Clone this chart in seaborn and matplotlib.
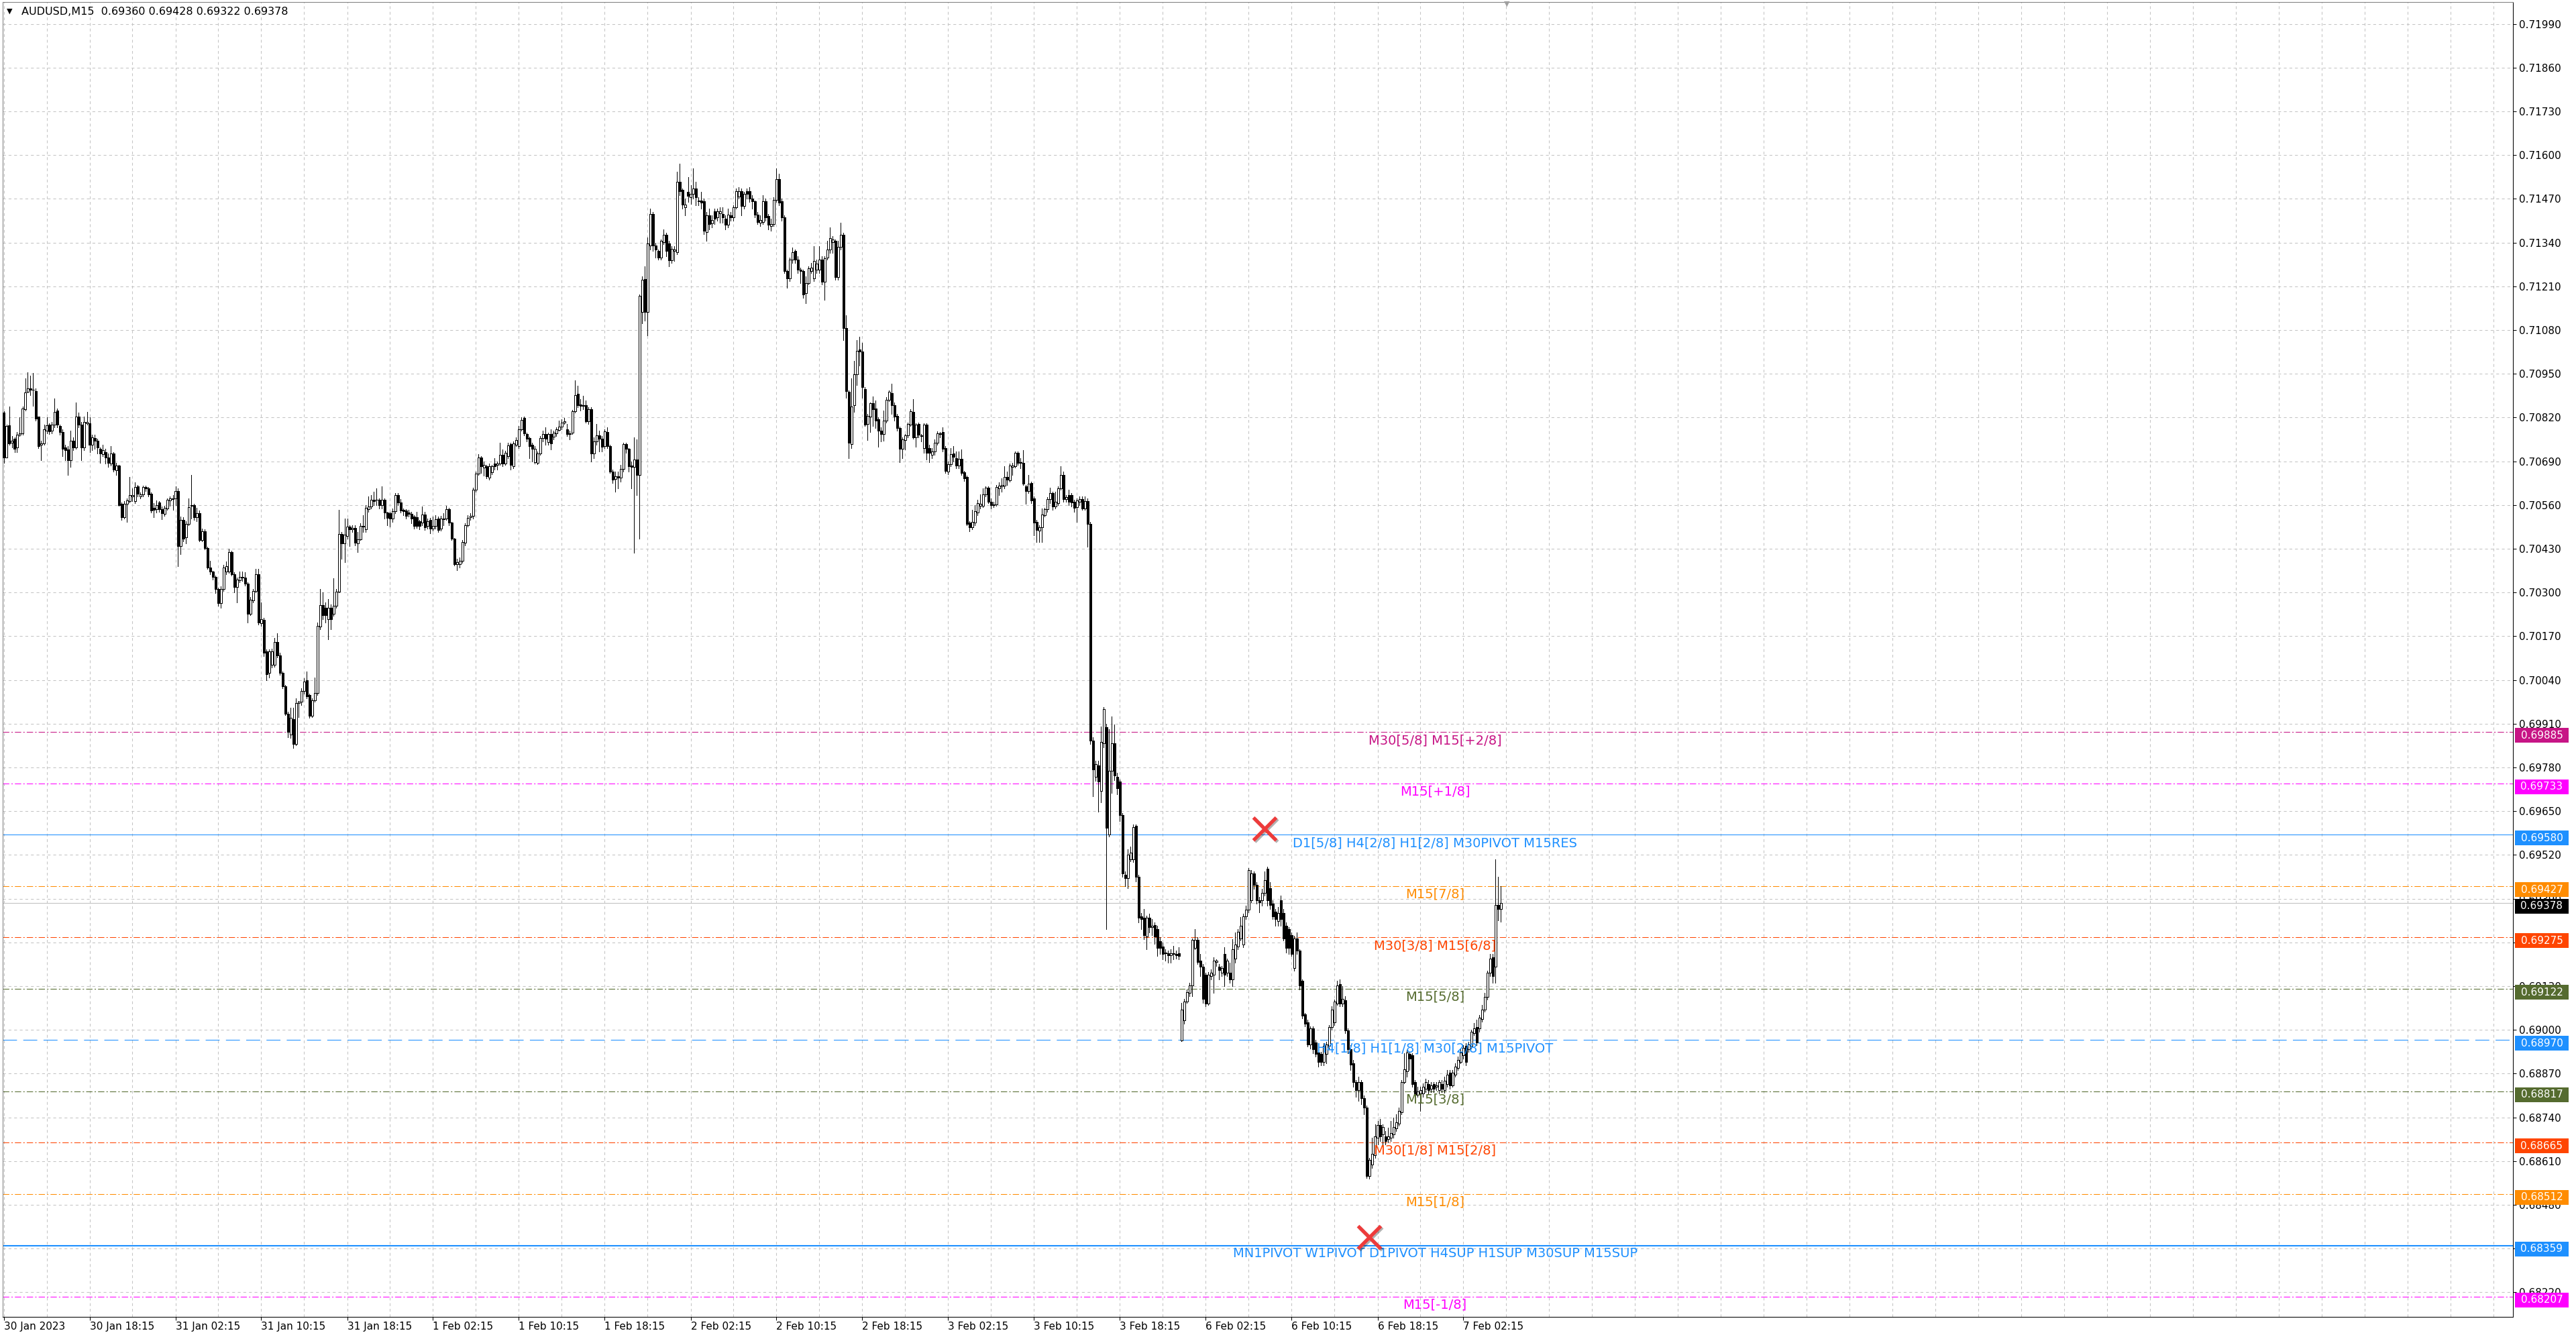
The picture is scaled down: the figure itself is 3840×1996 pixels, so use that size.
import numpy as np
import matplotlib
matplotlib.use("Agg")
import matplotlib.pyplot as plt
import matplotlib.transforms as mtransforms
import matplotlib.patheffects as pe
from matplotlib.patches import Rectangle
import seaborn as sns

# M15 candles, prices in points (1e-5)
opens = [
    70835, 70702, 70797, 70746, 70756, 70732, 70768, 70772, 70844, 70896,
    70906, 70903, 70899, 70823, 70739, 70744, 70780, 70799, 70780, 70799,
    70840, 70795, 70776, 70732, 70726, 70694, 70752, 70732, 70823, 70799,
    70732, 70803, 70803, 70740, 70758, 70752, 70728, 70711, 70718, 70701,
    70683, 70713, 70664, 70677, 70563, 70523, 70563, 70571, 70586, 70571,
    70616, 70586, 70592, 70614, 70610, 70594, 70551, 70547, 70567, 70547,
    70534, 70549, 70573, 70579, 70579, 70602, 70437, 70515, 70464, 70504,
    70560, 70559, 70523, 70535, 70456, 70482, 70431, 70374, 70362, 70346,
    70311, 70269, 70311, 70363, 70363, 70421, 70355, 70316, 70337, 70346,
    70344, 70326, 70237, 70277, 70305, 70355, 70208, 70218, 70124, 70061,
    70086, 70086, 70153, 70113, 70061, 70021, 69940, 69877, 69924, 69849,
    69971, 69975, 70007, 70039, 69995, 69934, 69979, 70001, 70198, 70263,
    70255, 70220, 70255, 70236, 70261, 70303, 70474, 70445, 70468, 70496,
    70488, 70492, 70445, 70458, 70496, 70488, 70547, 70556, 70575, 70576,
    70575, 70559, 70576, 70537, 70535, 70519, 70542, 70589, 70567, 70545,
    70543, 70537, 70534, 70525, 70524, 70511, 70507, 70532, 70498, 70515,
    70489, 70498, 70520, 70489, 70517, 70520, 70548, 70507, 70459, 70385,
    70385, 70394, 70448, 70500, 70524, 70528, 70606, 70654, 70701, 70671,
    70675, 70641, 70658, 70684, 70679, 70684, 70710, 70684, 70706, 70742,
    70675, 70740, 70736, 70785, 70818, 70770, 70759, 70740, 70688, 70686,
    70714, 70759, 70770, 70747, 70770, 70762, 70773, 70783, 70792, 70805,
    70785, 70773, 70775, 70839, 70891, 70859, 70857, 70857, 70809, 70845,
    70714, 70749, 70766, 70757, 70736, 70776, 70736, 70660, 70638, 70645,
    70641, 70667, 70742, 70727, 70678, 70673, 70695, 70649, 71133, 71231,
    71133, 71332, 71425, 71332, 71315, 71295, 71341, 71364, 71337, 71287,
    71315, 71312, 71520, 71497, 71445, 71490, 71475, 71484, 71501, 71465,
    71465, 71462, 71371, 71421, 71397, 71432, 71414, 71427, 71425, 71410,
    71393, 71420, 71414, 71445, 71477, 71492, 71449, 71492, 71492, 71471,
    71462, 71423, 71399, 71402, 71462, 71419, 71389, 71395, 71466, 71529,
    71462, 71414, 71255, 71233, 71289, 71315, 71289, 71259, 71255, 71190,
    71220, 71255, 71233, 71259, 71259, 71289, 71224, 71295, 71319, 71341,
    71345, 71238, 71328, 71364, 71085, 70896, 70742, 70856, 70948, 71022,
    71016, 70904, 70801, 70822, 70862, 70847, 70814, 70781, 70771, 70810,
    70872, 70893, 70856, 70824, 70788, 70728, 70753, 70766, 70799, 70837,
    70761, 70801, 70766, 70730, 70799, 70730, 70710, 70719, 70746, 70772,
    70776, 70729, 70659, 70682, 70713, 70700, 70677, 70697, 70658, 70643,
    70507, 70494, 70507, 70537, 70558, 70558, 70591, 70611, 70570, 70559,
    70562, 70610, 70616, 70618, 70644, 70634, 70673, 70675, 70715, 70688,
    70685, 70616, 70601, 70626, 70580, 70509, 70484, 70494, 70530, 70547,
    70578, 70595, 70555, 70566, 70610, 70649, 70578, 70589, 70589, 70570,
    70553, 70570, 70578, 70550, 70572, 70504, 69860, 69752, 69785, 69710,
    69851, 69900, 69580, 69771, 69851, 69752, 69738, 69639, 69460, 69451,
    69507, 69507, 69606, 69455, 69338, 69333, 69278, 69333, 69305, 69312,
    69300, 69263, 69248, 69230, 69228, 69222, 69228, 69225, 69228, 68969,
    69028, 69084, 69110, 69131, 69244, 69267, 69206, 69187, 69164, 69079,
    69159, 69164, 69202, 69187, 69169, 69225, 69169, 69169, 69150, 69212,
    69248, 69272, 69253, 69338, 69357, 69385, 69465, 69432, 69385, 69385,
    69408, 69479, 69422, 69376, 69352, 69324, 69385, 69347, 69310, 69300,
    69282, 69183, 69272, 69235, 69145, 69046, 69023, 68957, 69004, 68962,
    68933, 68929, 68905, 68929, 68952, 69009, 69023, 69079, 69136, 69079,
    69089, 68999, 68943, 68900, 68844, 68820, 68844, 68797, 68769, 68566,
    68600, 68628, 68679, 68717, 68689, 68684, 68675, 68679, 68689, 68708,
    68722, 68755, 68844, 68877, 68929, 68924, 68844, 68806, 68811, 68811,
    68825, 68839, 68825, 68839, 68830, 68820, 68839, 68820, 68839, 68872,
    68835, 68867, 68886, 68905, 68924, 68952, 68943, 68952, 68990, 69009,
    69004, 69032, 69060, 69098, 69169, 69216, 69187, 69371, 69360,
]
highs = [
    70839, 70799, 70852, 70764, 70760, 70776, 70821, 70852, 70937, 70955,
    70945, 70953, 70906, 70823, 70752, 70799, 70821, 70803, 70807, 70877,
    70847, 70799, 70784, 70740, 70736, 70780, 70760, 70864, 70835, 70807,
    70823, 70837, 70821, 70768, 70768, 70756, 70732, 70740, 70728, 70713,
    70736, 70717, 70685, 70680, 70567, 70571, 70579, 70644, 70610, 70627,
    70620, 70598, 70618, 70617, 70614, 70598, 70565, 70573, 70571, 70555,
    70557, 70580, 70586, 70590, 70616, 70610, 70525, 70523, 70512, 70580,
    70649, 70563, 70551, 70543, 70490, 70488, 70436, 70395, 70365, 70350,
    70315, 70318, 70382, 70393, 70430, 70425, 70360, 70345, 70362, 70362,
    70360, 70330, 70286, 70310, 70370, 70370, 70270, 70225, 70130, 70130,
    70132, 70164, 70178, 70120, 70066, 70025, 69945, 69958, 69958, 69985,
    69978, 70015, 70045, 70065, 70000, 69985, 70048, 70210, 70310, 70300,
    70270, 70280, 70265, 70342, 70310, 70546, 70480, 70520, 70520, 70500,
    70500, 70500, 70480, 70505, 70530, 70560, 70585, 70590, 70600, 70610,
    70580, 70615, 70580, 70540, 70540, 70550, 70595, 70595, 70578, 70550,
    70548, 70545, 70540, 70530, 70540, 70515, 70555, 70540, 70520, 70522,
    70525, 70530, 70525, 70528, 70535, 70558, 70552, 70510, 70462, 70400,
    70405, 70455, 70505, 70530, 70535, 70612, 70660, 70712, 70705, 70690,
    70680, 70684, 70680, 70700, 70690, 70745, 70725, 70722, 70745, 70745,
    70750, 70760, 70795, 70820, 70822, 70775, 70762, 70745, 70735, 70720,
    70765, 70780, 70790, 70775, 70785, 70780, 70790, 70810, 70815, 70818,
    70800, 70780, 70843, 70930, 70915, 70875, 70885, 70870, 70850, 70850,
    70760, 70800, 70780, 70765, 70785, 70790, 70740, 70665, 70660, 70660,
    70680, 70745, 70745, 70730, 70690, 70760, 70755, 71185, 71240, 71270,
    71355, 71440, 71430, 71340, 71320, 71350, 71380, 71370, 71345, 71330,
    71330, 71550, 71575, 71500, 71470, 71535, 71510, 71560, 71520, 71475,
    71490, 71470, 71430, 71440, 71420, 71440, 71440, 71445, 71445, 71420,
    71440, 71430, 71450, 71500, 71505, 71500, 71490, 71500, 71505, 71480,
    71465, 71430, 71420, 71480, 71470, 71425, 71410, 71475, 71560, 71545,
    71470, 71420, 71260, 71295, 71325, 71320, 71300, 71265, 71260, 71240,
    71270, 71280, 71330, 71290, 71330, 71300, 71300, 71345, 71385, 71360,
    71350, 71345, 71400, 71370, 71123, 70900, 70936, 70988, 71051, 71061,
    71043, 70910, 70830, 70864, 70882, 70870, 70820, 70790, 70841, 70880,
    70900, 70921, 70864, 70830, 70792, 70760, 70770, 70805, 70845, 70875,
    70803, 70805, 70770, 70803, 70803, 70740, 70730, 70755, 70778, 70776,
    70790, 70735, 70690, 70730, 70735, 70720, 70720, 70725, 70662, 70648,
    70512, 70545, 70560, 70575, 70592, 70610, 70616, 70615, 70580, 70570,
    70620, 70628, 70640, 70676, 70660, 70683, 70685, 70720, 70720, 70700,
    70723, 70620, 70650, 70630, 70585, 70515, 70500, 70550, 70552, 70583,
    70612, 70600, 70600, 70615, 70676, 70660, 70590, 70605, 70595, 70575,
    70580, 70585, 70585, 70585, 70580, 70510, 69869, 69800, 69799, 69902,
    69960, 69910, 69893, 69931, 69907, 69765, 69745, 69645, 69470, 69536,
    69545, 69610, 69611, 69460, 69347, 69360, 69340, 69345, 69330, 69320,
    69310, 69275, 69260, 69240, 69235, 69240, 69250, 69235, 69245, 69080,
    69093, 69120, 69140, 69272, 69300, 69275, 69225, 69195, 69170, 69172,
    69180, 69215, 69210, 69195, 69190, 69245, 69212, 69200, 69270, 69290,
    69300, 69335, 69345, 69370, 69480, 69474, 69470, 69440, 69395, 69420,
    69470, 69484, 69440, 69385, 69360, 69365, 69400, 69360, 69320, 69305,
    69290, 69280, 69290, 69240, 69150, 69050, 69030, 69010, 69010, 68970,
    68940, 68935, 68960, 68965, 69015, 69070, 69090, 69145, 69150, 69130,
    69100, 69005, 68955, 68910, 68850, 68860, 68850, 68805, 68775, 68620,
    68680, 68720, 68730, 68735, 68720, 68700, 68710, 68730, 68740, 68750,
    68770, 68850, 68930, 68940, 68935, 68930, 68850, 68830, 68830, 68840,
    68855, 68850, 68845, 68845, 68845, 68850, 68850, 68860, 68880, 68880,
    68880, 68900, 68920, 68945, 68955, 68960, 68965, 69000, 69020, 69030,
    69045, 69075, 69110, 69175, 69225, 69225, 69507, 69455, 69428,
]
lows = [
    70685, 70701, 70740, 70731, 70717, 70717, 70764, 70768, 70840, 70894,
    70886, 70854, 70810, 70730, 70693, 70740, 70772, 70770, 70772, 70791,
    70791, 70768, 70705, 70693, 70649, 70673, 70724, 70728, 70791, 70693,
    70724, 70799, 70717, 70724, 70728, 70713, 70685, 70705, 70683, 70673,
    70677, 70660, 70649, 70557, 70515, 70519, 70510, 70567, 70571, 70565,
    70586, 70580, 70586, 70601, 70586, 70538, 70523, 70538, 70540, 70517,
    70527, 70545, 70557, 70545, 70560, 70379, 70415, 70452, 70445, 70500,
    70520, 70515, 70512, 70452, 70452, 70428, 70370, 70355, 70338, 70298,
    70261, 70255, 70305, 70355, 70358, 70350, 70300, 70270, 70330, 70335,
    70320, 70210, 70232, 70270, 70300, 70205, 70200, 70110, 70040, 70048,
    70078, 70080, 70106, 70055, 70015, 69935, 69870, 69868, 69838, 69845,
    69930, 69965, 70000, 69985, 69928, 69930, 69975, 69995, 70190, 70220,
    70210, 70160, 70190, 70230, 70255, 70300, 70400, 70390, 70460, 70438,
    70480, 70440, 70420, 70455, 70480, 70480, 70540, 70550, 70560, 70560,
    70550, 70550, 70520, 70500, 70495, 70510, 70535, 70560, 70538, 70530,
    70520, 70525, 70505, 70490, 70492, 70488, 70500, 70485, 70490, 70475,
    70483, 70490, 70480, 70484, 70500, 70515, 70500, 70455, 70380, 70366,
    70375, 70388, 70440, 70495, 70515, 70520, 70600, 70650, 70655, 70648,
    70640, 70635, 70652, 70665, 70665, 70680, 70675, 70680, 70700, 70665,
    70670, 70735, 70730, 70780, 70766, 70750, 70700, 70690, 70684, 70682,
    70710, 70750, 70740, 70740, 70725, 70755, 70765, 70780, 70785, 70800,
    70765, 70755, 70770, 70835, 70850, 70840, 70845, 70805, 70800, 70690,
    70700, 70740, 70720, 70720, 70730, 70730, 70655, 70625, 70600, 70610,
    70630, 70660, 70715, 70660, 70610, 70418, 70590, 70459, 71100, 71108,
    71064, 71320, 71315, 71295, 71290, 71290, 71335, 71300, 71270, 71280,
    71285, 71305, 71480, 71440, 71420, 71460, 71455, 71470, 71450, 71450,
    71440, 71365, 71345, 71380, 71385, 71395, 71405, 71400, 71400, 71380,
    71385, 71405, 71405, 71440, 71470, 71420, 71440, 71470, 71460, 71440,
    71415, 71395, 71390, 71395, 71405, 71380, 71375, 71390, 71460, 71450,
    71405, 71250, 71205, 71225, 71280, 71280, 71250, 71220, 71175, 71160,
    71215, 71250, 71225, 71250, 71250, 71215, 71170, 71290, 71310, 71310,
    71230, 71230, 71320, 71050, 70879, 70700, 70730, 70837, 70917, 70974,
    70879, 70795, 70753, 70776, 70795, 70788, 70734, 70750, 70751, 70805,
    70868, 70830, 70810, 70780, 70688, 70700, 70726, 70760, 70795, 70757,
    70734, 70760, 70750, 70715, 70696, 70688, 70700, 70710, 70740, 70760,
    70720, 70655, 70652, 70675, 70690, 70670, 70670, 70650, 70632, 70500,
    70482, 70488, 70500, 70530, 70550, 70553, 70585, 70565, 70550, 70553,
    70558, 70590, 70600, 70610, 70620, 70630, 70650, 70672, 70680, 70670,
    70620, 70563, 70595, 70565, 70470, 70450, 70450, 70450, 70525, 70540,
    70565, 70545, 70550, 70560, 70605, 70570, 70570, 70560, 70555, 70540,
    70510, 70560, 70545, 70545, 70436, 69850, 69695, 69740, 69648, 69677,
    69840, 69300, 69575, 69705, 69742, 69700, 69620, 69455, 69427, 69422,
    69500, 69498, 69441, 69320, 69300, 69270, 69240, 69290, 69282, 69255,
    69220, 69225, 69210, 69205, 69200, 69200, 69210, 69212, 69210, 68966,
    69018, 69080, 69100, 69100, 69240, 69195, 69160, 69080, 69070, 69075,
    69150, 69110, 69190, 69150, 69160, 69130, 69160, 69140, 69130, 69200,
    69240, 69265, 69245, 69330, 69350, 69380, 69420, 69376, 69350, 69370,
    69400, 69370, 69360, 69330, 69310, 69310, 69310, 69265, 69230, 69225,
    69220, 69175, 69225, 69120, 69035, 69010, 68950, 68945, 68930, 68920,
    68890, 68895, 68895, 68900, 68945, 69000, 69015, 69075, 69070, 69070,
    68990, 68930, 68880, 68830, 68800, 68790, 68780, 68750, 68560, 68558,
    68590, 68620, 68660, 68670, 68660, 68660, 68665, 68670, 68680, 68700,
    68715, 68750, 68840, 68860, 68880, 68830, 68790, 68800, 68760, 68800,
    68815, 68810, 68815, 68815, 68820, 68810, 68815, 68812, 68830, 68825,
    68830, 68860, 68880, 68900, 68915, 68895, 68935, 68945, 68985, 68955,
    68995, 69025, 69055, 69090, 69160, 69140, 69140, 69325, 69322,
]
closes = [
    70701, 70795, 70744, 70752, 70728, 70768, 70773, 70847, 70895, 70906,
    70903, 70903, 70817, 70736, 70744, 70784, 70797, 70778, 70799, 70837,
    70799, 70776, 70728, 70724, 70694, 70752, 70732, 70823, 70799, 70732,
    70807, 70807, 70740, 70760, 70752, 70731, 70713, 70724, 70701, 70685,
    70713, 70665, 70677, 70560, 70523, 70564, 70573, 70589, 70590, 70614,
    70594, 70592, 70614, 70610, 70592, 70543, 70545, 70560, 70547, 70535,
    70551, 70575, 70579, 70577, 70602, 70437, 70515, 70460, 70504, 70553,
    70557, 70523, 70535, 70456, 70482, 70431, 70375, 70362, 70346, 70311,
    70269, 70311, 70375, 70378, 70421, 70355, 70316, 70338, 70346, 70344,
    70326, 70237, 70279, 70305, 70354, 70210, 70220, 70121, 70058, 70124,
    70125, 70153, 70113, 70061, 70021, 69940, 69885, 69927, 69849, 69971,
    69975, 70007, 70035, 69991, 69934, 69979, 70001, 70200, 70263, 70232,
    70232, 70255, 70220, 70261, 70303, 70474, 70445, 70472, 70496, 70488,
    70492, 70448, 70458, 70497, 70497, 70551, 70556, 70575, 70571, 70575,
    70559, 70576, 70537, 70521, 70519, 70542, 70589, 70567, 70543, 70541,
    70528, 70534, 70520, 70498, 70498, 70498, 70532, 70494, 70511, 70489,
    70498, 70517, 70485, 70520, 70520, 70548, 70507, 70459, 70385, 70390,
    70394, 70450, 70500, 70522, 70528, 70606, 70654, 70701, 70675, 70679,
    70645, 70675, 70675, 70675, 70684, 70710, 70684, 70716, 70738, 70679,
    70744, 70753, 70785, 70813, 70773, 70757, 70736, 70727, 70727, 70714,
    70759, 70770, 70757, 70770, 70744, 70775, 70785, 70792, 70805, 70809,
    70770, 70770, 70839, 70887, 70857, 70854, 70854, 70809, 70844, 70714,
    70749, 70766, 70757, 70733, 70779, 70736, 70660, 70636, 70645, 70641,
    70667, 70742, 70727, 70675, 70673, 70695, 70649, 71181, 71229, 71133,
    71337, 71425, 71332, 71319, 71295, 71345, 71363, 71315, 71287, 71321,
    71319, 71520, 71492, 71453, 71453, 71479, 71484, 71501, 71475, 71462,
    71459, 71376, 71421, 71395, 71406, 71410, 71432, 71433, 71414, 71393,
    71423, 71414, 71445, 71492, 71492, 71449, 71485, 71485, 71471, 71462,
    71423, 71402, 71406, 71462, 71414, 71393, 71395, 71466, 71529, 71458,
    71414, 71255, 71233, 71289, 71312, 71289, 71259, 71255, 71185, 71220,
    71263, 71265, 71285, 71278, 71289, 71224, 71293, 71319, 71354, 71350,
    71238, 71328, 71364, 71086, 70898, 70746, 70852, 70948, 71018, 71016,
    70910, 70799, 70824, 70862, 70845, 70810, 70780, 70771, 70810, 70872,
    70896, 70856, 70822, 70788, 70728, 70755, 70766, 70801, 70839, 70761,
    70799, 70768, 70764, 70799, 70715, 70715, 70720, 70746, 70772, 70771,
    70728, 70662, 70682, 70711, 70704, 70677, 70697, 70655, 70639, 70504,
    70494, 70509, 70542, 70565, 70564, 70591, 70611, 70570, 70559, 70562,
    70613, 70618, 70620, 70644, 70635, 70677, 70677, 70715, 70685, 70685,
    70623, 70601, 70624, 70574, 70507, 70486, 70494, 70532, 70547, 70578,
    70595, 70555, 70570, 70610, 70649, 70578, 70583, 70570, 70568, 70551,
    70574, 70578, 70550, 70572, 70504, 69860, 69775, 69790, 69738, 69856,
    69954, 69601, 69771, 69851, 69757, 69719, 69639, 69465, 69451, 69521,
    69526, 69603, 69455, 69333, 69329, 69282, 69333, 69305, 69310, 69278,
    69244, 69244, 69225, 69228, 69222, 69228, 69225, 69222, 69220, 69060,
    69084, 69112, 69131, 69267, 69267, 69202, 69187, 69093, 69079, 69164,
    69169, 69206, 69206, 69178, 69183, 69164, 69206, 69150, 69240, 69253,
    69291, 69310, 69338, 69357, 69474, 69465, 69432, 69385, 69380, 69408,
    69446, 69385, 69371, 69338, 69329, 69347, 69329, 69272, 69244, 69244,
    69225, 69272, 69235, 69131, 69042, 69018, 68957, 69004, 68943, 68929,
    68905, 68905, 68952, 68957, 69009, 69060, 69084, 69131, 69079, 69093,
    68999, 68943, 68896, 68844, 68820, 68844, 68797, 68769, 68566, 68613,
    68632, 68684, 68717, 68684, 68712, 68670, 68684, 68693, 68712, 68726,
    68760, 68844, 68882, 68933, 68915, 68839, 68806, 68816, 68820, 68830,
    68844, 68820, 68834, 68825, 68834, 68844, 68825, 68849, 68867, 68835,
    68872, 68891, 68910, 68933, 68947, 68905, 68957, 68994, 69004, 68962,
    69037, 69060, 69098, 69169, 69211, 69159, 69371, 69360, 69378,
]

# time axis labels, one every 32 bars
time_labels = ["30 Jan 2023", "30 Jan 18:15", "31 Jan 02:15", "31 Jan 10:15",
               "31 Jan 18:15", "1 Feb 02:15", "1 Feb 10:15", "1 Feb 18:15",
               "2 Feb 02:15", "2 Feb 10:15", "2 Feb 18:15", "3 Feb 02:15",
               "3 Feb 10:15", "3 Feb 18:15", "6 Feb 02:15", "6 Feb 10:15",
               "6 Feb 18:15", "7 Feb 02:15"]
bars_per_label = 32

price_ticks = [0.68220, 0.68350, 0.68480, 0.68610, 0.68740, 0.68870, 0.69000,
               0.69130, 0.69260, 0.69390, 0.69520, 0.69650, 0.69780, 0.69910,
               0.70040, 0.70170, 0.70300, 0.70430, 0.70560, 0.70690, 0.70820,
               0.70950, 0.71080, 0.71210, 0.71340, 0.71470, 0.71600, 0.71730,
               0.71860, 0.71990]

# Murrey / pivot levels
level_prices = [0.69885, 0.69733, 0.69580, 0.69427, 0.69275, 0.69122,
                0.68970, 0.68817, 0.68665, 0.68512, 0.68359, 0.68207]
level_texts = ["M30[5/8] M15[+2/8]", "M15[+1/8]",
               "D1[5/8] H4[2/8] H1[2/8] M30PIVOT M15RES", "M15[7/8]",
               "M30[3/8] M15[6/8]", "M15[5/8]",
               "H4[1/8] H1[1/8] M30[2/8] M15PIVOT", "M15[3/8]",
               "M30[1/8] M15[2/8]", "M15[1/8]",
               "MN1PIVOT W1PIVOT D1PIVOT H4SUP H1SUP M30SUP M15SUP", "M15[-1/8]"]
level_colors = ["#C71585", "#FF00FF", "#1E90FF", "#FF8C00", "#FF4500", "#556B2F",
                "#1E90FF", "#556B2F", "#FF4500", "#FF8C00", "#1E90FF", "#FF00FF"]
level_kinds = ["dashdot", "dashdot", "solid", "dashdot", "dashdot", "dashdot",
               "dashed", "dashdot", "dashdot", "dashdot", "thick", "dashdot"]

bid_price = 0.69378
title = "AUDUSD,M15  0.69360 0.69428 0.69322 0.69378"

# red cross markers
mark_bars = [470, 509]
mark_prices = [0.69597, 0.68383]

sns.set_style("white")
plt.rcParams['font.family'] = ['DejaVu Sans']

W, H = 3840, 1996
fig = plt.figure(figsize=(W / 100, H / 100), dpi=100)
fig.patch.set_facecolor("white")
ax = fig.add_axes([4 / W, 1 - 1963 / H, 3742 / W, 1960 / H])
ax.set_facecolor("white")

o = np.array(opens) / 1e5
h = np.array(highs) / 1e5
l = np.array(lows) / 1e5
c = np.array(closes) / 1e5
x = np.arange(len(c))
up = c >= o

ymin, ymax = 0.68147, 0.72055
ax.set_xlim(-0.375, 935.125)
ax.set_ylim(ymin, ymax)
dy = (ymax - ymin) / 1960.0

# levels
style_map = {
    "dashdot": dict(ls=(0, (9, 3, 2, 3)), lw=0.75),
    "solid": dict(ls="-", lw=0.75),
    "dashed": dict(ls=(0, (20, 9)), lw=0.75),
    "thick": dict(ls="-", lw=1.5),
}
for p, col, kind in zip(level_prices, level_colors, level_kinds):
    ax.axhline(p, color=col, zorder=2, **style_map[kind])
ax.axhline(bid_price, color="#C0C0C0", lw=0.75, zorder=1.8)

# candles
ax.vlines(x, l, h, color="black", lw=0.5, zorder=3, antialiased=False)
ax.bar(x[up], c[up] - o[up], bottom=o[up], width=0.6, color="white",
       edgecolor="black", linewidth=0.5, zorder=4, antialiased=False)
ax.bar(x[~up], o[~up] - c[~up], bottom=c[~up], width=0.6, color="black",
       edgecolor="black", linewidth=0.5, zorder=4, antialiased=False)

# level labels
label_bar = 533.4
for p, txt, col in zip(level_prices, level_texts, level_colors):
    ax.annotate(txt, xy=(label_bar, p), xytext=(0, -2), textcoords="offset points",
                ha="center", va="top", color=col, fontsize=14, zorder=6)

# red crosses
sns.scatterplot(x=mark_bars, y=mark_prices, marker="x", s=600, color="#EE3B3B",
                linewidth=3.8, ax=ax, zorder=7, legend=False)
ax.collections[-1].set_path_effects([
    pe.SimpleLineShadow(offset=(1.5, -1.5), shadow_color="black", alpha=0.3),
    pe.Normal()])

# grid
ax.set_xticks(np.arange(len(time_labels)) * bars_per_label)
ax.set_xticklabels(time_labels)
ax.set_xticks(np.arange(0, 936, 16), minor=True)
ax.set_yticks(price_ticks)
ax.set_yticklabels([f"{t:.5f}" for t in price_ticks])
ax.set_axisbelow(True)
grid_kw = dict(color="#C4C4C4", lw=0.75, ls=(0, (4, 4)))
ax.grid(True, which="both", axis="x", **grid_kw)
ax.grid(True, which="major", axis="y", **grid_kw)

ax.yaxis.tick_right()
ax.tick_params(axis="y", which="major", right=True, left=False, labelright=True,
               labelleft=False, length=3.6, width=0.75, pad=2.9,
               labelsize=11, colors="black")
ax.tick_params(axis="x", which="major", bottom=True, length=3.6, width=0.75,
               pad=1.5, labelsize=11, colors="black")
ax.tick_params(axis="x", which="minor", length=0)
for lab in ax.get_xticklabels():
    lab.set_horizontalalignment("left")

for side, sp in ax.spines.items():
    sp.set_visible(True)
    sp.set_linewidth(0.75)
    sp.set_color("black" if side in ("right", "bottom") else "#808080")

# price boxes on the right scale
blend = mtransforms.blended_transform_factory(fig.transFigure, ax.transData)
box_prices = level_prices + [bid_price]
box_colors = level_colors + ["black"]
for p, col in zip(box_prices, box_colors):
    rect = Rectangle((3749 / W, p - 16 * dy), 80 / W, 22 * dy, transform=blend,
                     facecolor=col, edgecolor="none", clip_on=False, zorder=8)
    ax.add_artist(rect)
    ax.text(3789 / W, p - 5 * dy, f"{p:.5f}", transform=blend, ha="center",
            va="center", color="white", fontsize=11, zorder=9, clip_on=False)

# header
fig.text(10 / W, 1 - 17 / H, "\u25BC", fontsize=8, va="center", ha="left", color="black")
fig.text(32 / W, 1 - 18 / H, title, fontsize=11.5, va="center", ha="left", color="black")
fig.text(2246 / W, 1 - 1 / H, "\u25BC", fontsize=8, va="top", ha="center", color="#A0A0A0")

fig.savefig("out.png", dpi=100, facecolor="white")
